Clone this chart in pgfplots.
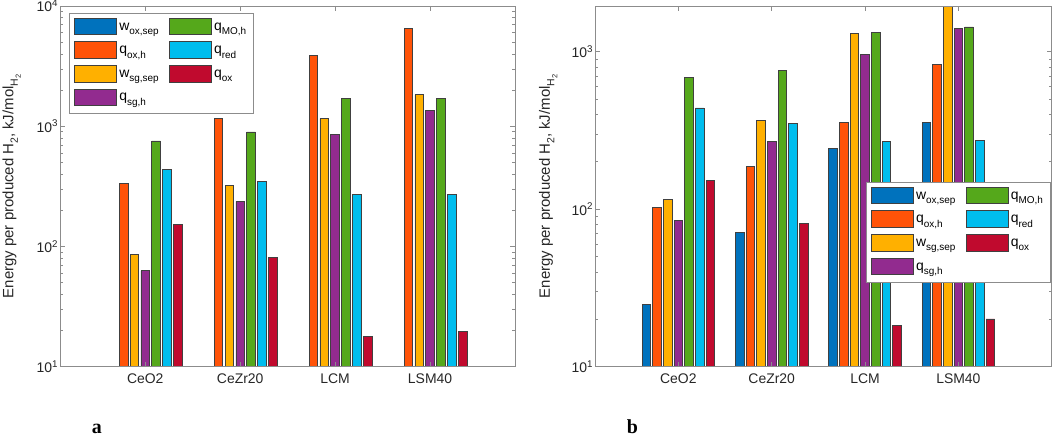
\documentclass[border=0pt]{standalone}
\usepackage{fontspec}
\setmainfont{Liberation Sans}
\newfontfamily\serifbold{Liberation Serif}
\usepackage{pgfplots}
\pgfplotsset{compat=1.18}

\newcommand{\sub}[1]{\raisebox{-4.5bp}{\fontsize{10}{12}\selectfont #1}}
\newcommand{\ysub}[1]{\raisebox{-4.5bp}{\fontsize{10.5}{12}\selectfont #1}}
\newcommand{\subsub}[1]{\raisebox{-3bp}{\fontsize{7.5}{9}\selectfont #1}}

\definecolor{cwox}{HTML}{0072BD}
\definecolor{cqoxh}{HTML}{FF5308}
\definecolor{cwsg}{HTML}{FFB000}
\definecolor{cqsg}{HTML}{922B8F}
\definecolor{cmo}{HTML}{55A81B}
\definecolor{cred}{HTML}{00BDEE}
\definecolor{cox}{HTML}{C00A2E}
\definecolor{axgray}{HTML}{8C8C8C}
\definecolor{txt}{HTML}{262626}

\pgfplotsset{
  mybar/.style={fill=#1, draw=black!75, line width=0.7bp, forget plot},
  lgimg/.style={legend image code/.code={\draw[##1] (0bp,-6.7bp) rectangle (41.7bp,10bp);}, draw=black!75, line width=0.7bp},
}

\begin{document}
\begin{tikzpicture}
% ---------------- panel a ----------------
\begin{axis}[scale only axis, height=360.7bp, anchor=south west,
    ymode=log, ymin=10, ybar, bar width=0.0914,
    xtick={1,2,3,4}, xticklabels={CeO2,CeZr20,LCM,LSM40},
    axis line style={draw=axgray, line width=0.8bp},
    tick style={draw=axgray, line width=0.6bp},
    major tick length=5bp, minor tick length=3bp, tick align=inside,
    ticklabel style={font=\fontsize{14}{16}\selectfont, text=txt},
    xticklabel style={yshift=-4bp},
    yticklabel style={inner xsep=2bp},
    axis on top,
    legend columns=2,
    legend cell align=left,
    legend style={draw=axgray, line width=0.8bp, fill=white, inner xsep=5bp, inner ysep=4bp,
      font=\fontsize{14}{16}\selectfont, text=black,
      nodes={inner xsep=2.5bp, inner ysep=2bp, text height=10bp, text depth=6bp},
      row sep=3.3bp,
      /tikz/every even column/.append style={column sep=8bp}},
    ylabel={Energy per produced H\ysub{2}, kJ/mol\ysub{H\subsub{2}}},
    ylabel style={font=\fontsize{15}{17}\selectfont, text=txt, at={(axis description cs:-0.1034,0.5)}, anchor=base},
  at={(60.3bp,69.3bp)}, width=454.7bp,
  xmin=0.105, xmax=4.895, ymax=10000,
  ytick={10,100,1000,10000},
  yticklabels={10\textsuperscript{1},10\textsuperscript{2},10\textsuperscript{3},10\textsuperscript{4}},
  minor ytick={20,30,40,50,60,70,80,90,200,300,400,500,600,700,800,900,2000,3000,4000,5000,6000,7000,8000,9000},
  legend style={at={(axis description cs:0.0191,0.9798)}, anchor=north west}]
\addplot[mybar=cqoxh, bar shift=-0.2286] coordinates {(1,335) (2,1166) (3,3880) (4,6475)};
\addplot[mybar=cwsg, bar shift=-0.1143] coordinates {(1,85.2) (2,320) (3,1159) (4,1836)};
\addplot[mybar=cqsg, bar shift=0] coordinates {(1,62.7) (2,237) (3,853) (4,1352)};
\addplot[mybar=cmo, bar shift=0.1143] coordinates {(1,755) (2,897) (3,1711) (4,1711)};
\addplot[mybar=cred, bar shift=0.2286] coordinates {(1,438) (2,350) (3,270) (4,273)};
\addplot[mybar=cox, bar shift=0.3429] coordinates {(1,151.6) (2,81.5) (3,18.0) (4,19.7)};
\addlegendimage{lgimg, fill=cwox}\addlegendentry{w\sub{ox,sep}}
\addlegendimage{lgimg, fill=cmo}\addlegendentry{q\sub{MO,h}}
\addlegendimage{lgimg, fill=cqoxh}\addlegendentry{q\sub{ox,h}}
\addlegendimage{lgimg, fill=cred}\addlegendentry{q\sub{red}}
\addlegendimage{lgimg, fill=cwsg}\addlegendentry{w\sub{sg,sep}}
\addlegendimage{lgimg, fill=cox}\addlegendentry{q\sub{ox}}
\addlegendimage{lgimg, fill=cqsg}\addlegendentry{q\sub{sg,h}}
\end{axis}
% ---------------- panel b ----------------
\begin{axis}[scale only axis, height=360.7bp, anchor=south west,
    ymode=log, ymin=10, ybar, bar width=0.0914,
    xtick={1,2,3,4}, xticklabels={CeO2,CeZr20,LCM,LSM40},
    axis line style={draw=axgray, line width=0.8bp},
    tick style={draw=axgray, line width=0.6bp},
    major tick length=5bp, minor tick length=3bp, tick align=inside,
    ticklabel style={font=\fontsize{14}{16}\selectfont, text=txt},
    xticklabel style={yshift=-4bp},
    yticklabel style={inner xsep=2bp},
    axis on top,
    legend columns=2,
    legend cell align=left,
    legend style={draw=axgray, line width=0.8bp, fill=white, inner xsep=5bp, inner ysep=4bp,
      font=\fontsize{14}{16}\selectfont, text=black,
      nodes={inner xsep=2.5bp, inner ysep=2bp, text height=10bp, text depth=6bp},
      row sep=3.3bp,
      /tikz/every even column/.append style={column sep=8bp}},
    ylabel={Energy per produced H\ysub{2}, kJ/mol\ysub{H\subsub{2}}},
    ylabel style={font=\fontsize{15}{17}\selectfont, text=txt, at={(axis description cs:-0.0993,0.5)}, anchor=base},
  at={(595.3bp,69.3bp)}, width=456.4bp,
  xmin=0.110, xmax=5.0, ymax=1950,
  ytick={10,100,1000},
  yticklabels={10\textsuperscript{1},10\textsuperscript{2},10\textsuperscript{3}},
  minor ytick={20,30,40,50,60,70,80,90,200,300,400,500,600,700,800,900},
  legend style={at={(axis description cs:0.5925,0.5112)}, anchor=north west}]
\addplot[mybar=cwox, bar shift=-0.3429] coordinates {(1,25.0) (2,71.6) (3,244) (4,357)};
\addplot[mybar=cqoxh, bar shift=-0.2286] coordinates {(1,103) (2,188) (3,356) (4,835)};
\addplot[mybar=cwsg, bar shift=-0.1143] coordinates {(1,116) (2,366) (3,1307) (4,2500)};
\addplot[mybar=cqsg, bar shift=0] coordinates {(1,85.3) (2,268) (3,957) (4,1413)};
\addplot[mybar=cmo, bar shift=0.1143] coordinates {(1,684) (2,765) (3,1333) (4,1435)};
\addplot[mybar=cred, bar shift=0.2286] coordinates {(1,439) (2,351) (3,270) (4,274)};
\addplot[mybar=cox, bar shift=0.3429] coordinates {(1,152) (2,81.7) (3,18.2) (4,20.1)};
\addlegendimage{lgimg, fill=cwox}\addlegendentry{w\sub{ox,sep}}
\addlegendimage{lgimg, fill=cmo}\addlegendentry{q\sub{MO,h}}
\addlegendimage{lgimg, fill=cqoxh}\addlegendentry{q\sub{ox,h}}
\addlegendimage{lgimg, fill=cred}\addlegendentry{q\sub{red}}
\addlegendimage{lgimg, fill=cwsg}\addlegendentry{w\sub{sg,sep}}
\addlegendimage{lgimg, fill=cox}\addlegendentry{q\sub{ox}}
\addlegendimage{lgimg, fill=cqsg}\addlegendentry{q\sub{sg,h}}
\end{axis}
\node[font=\serifbold\bfseries\fontsize{20}{22}\selectfont, anchor=base west, inner sep=0pt] at (91.7bp,3bp) {a};
\node[font=\serifbold\bfseries\fontsize{20}{22}\selectfont, anchor=base west, inner sep=0pt] at (626.7bp,3bp) {b};
\pgfresetboundingbox
\useasboundingbox (0,0) rectangle (1052bp,436bp);
\end{tikzpicture}
\end{document}
